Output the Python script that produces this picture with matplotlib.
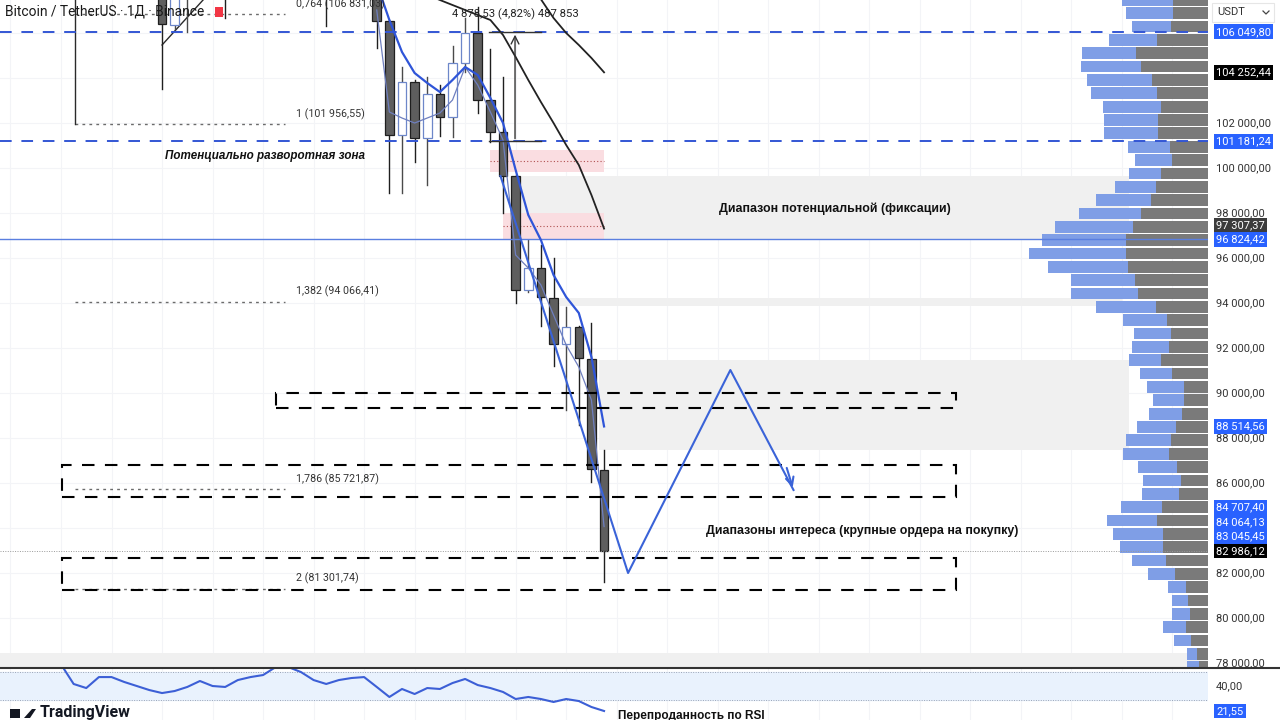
import matplotlib.pyplot as plt
import matplotlib.transforms as mtransforms
from matplotlib.patches import Rectangle, Polygon
from matplotlib.lines import Line2D

plt.rcParams['font.family'] = ['Liberation Sans', 'DejaVu Sans']

#===============================================================================
# Data (daily BTC/USDT candles, index 0 = leftmost visible)
#===============================================================================
opens = [108600, 106355, 107600, 108200, 108900, 109600, 108300, 109400, 110600,
         111500, 110200, 109100, 110100, 108800, 107800, 108600, 108000, 107700,
         106533, 101467, 103822, 101333, 103289, 102267, 104667, 106000, 103022,
         101600, 99644, 94578, 95556, 94222, 92178, 92933, 91511, 86578]
highs = [109100, 108400, 108700, 109300, 110000, 110400, 109800, 111000, 111900,
         112000, 110900, 110500, 110600, 109500, 109000, 109200, 108800, 108100,
         106600, 104489, 103900, 104044, 103689, 105422, 106667, 107155, 105289,
         104044, 99700, 96800, 96578, 96000, 93822, 93000, 93111, 87467]
lows = [103511, 106200, 106044, 107700, 108300, 106667, 107900, 109000, 110100,
        109800, 108700, 108500, 108400, 106311, 107600, 107700, 107550, 105333,
        98889, 98889, 100267, 99244, 101422, 101378, 104267, 102444, 101155,
        98000, 94000, 94500, 92978, 91200, 89244, 88578, 86044, 81600]
closes = [106400, 107900, 108300, 108900, 109600, 108300, 109400, 110600, 111500,
          110200, 109100, 110100, 108800, 107800, 108600, 108000, 107700, 106533,
          101467, 103822, 101333, 103289, 102267, 104667, 106000, 103022, 101600,
          99644, 94578, 95556, 94267, 92178, 92933, 91556, 86622, 82986.12]

# moving averages (start index, values)
ma_fast_start = 17
ma_fast = [108200, 106578, 105156, 104222, 103778, 103378, 103911, 104489, 104133,
           103111, 102000, 99911, 97911, 96800, 95244, 94267, 93556, 91600, 88514.56]
ma_thin_start = 17
ma_thin = [107022, 102489, 102222, 102000, 102222, 102444, 103022, 104489, 103689,
           102489, 101244, 96133, 95556, 94800, 93467, 92133, 91156, 89689, 84064.13]
ma_black_a_start = 21
ma_black_a = [107700, 107467, 107244, 107022, 106800, 106578, 105911, 104933,
              103911, 102933, 102000, 101022, 100133, 98800, 97307.37]
ma_black_b_start = 29
ma_black_b = [107900, 107500, 106667, 106000, 105467, 104889, 104252.44]

# RSI, index -8 .. 35
rsi_start = -8
rsi = [56, 41.5, 38.5, 46.6, 46.6, 43.0, 40.0, 37.0, 34.8, 36.3, 39.3, 43.7, 40.0,
       39.3, 44.4, 46.6, 48.1, 54, 54, 50.3, 44.4, 41.5, 44.4, 45.9, 46.6, 39.3,
       31.9, 37.8, 34.1, 38.5, 37.8, 42.2, 45.2, 40.7, 38.5, 35.6, 30.4, 31.9,
       30.4, 28.2, 30.4, 28.9, 24.5, 21.55]

# volume profile rows from the top (total / sell part)
vp_top = 107771
vp_step = 593.3
vp_total = [86, 82, 76, 99, 126, 127, 121, 117, 105, 104, 104, 80, 73, 79, 93, 112,
            129, 153, 166, 179, 160, 137, 137, 112, 85, 74, 76, 79, 68, 61, 55, 59,
            71, 82, 85, 70, 65, 66, 87, 101, 95, 88, 76, 60, 40, 36, 36, 45, 34, 21, 21]
vp_sell = [35, 35, 37, 51, 72, 67, 56, 51, 47, 50, 50, 38, 36, 47, 52, 57, 67, 75,
           82, 82, 80, 73, 70, 52, 41, 37, 39, 47, 36, 24, 24, 26, 32, 37, 39, 31,
           27, 29, 46, 51, 45, 45, 42, 33, 22, 20, 18, 22, 17, 11, 9]

# drawings
fib_labels = ['0,764 (106 831,03)', '1 (101 956,55)', '1,382 (94 066,41)',
              '1,786 (85 721,87)', '2 (81 301,74)']
fib_prices = [106831.03, 101956.55, 94066.41, 85721.87, 81301.74]
blue_dashed = [106049.80, 101181.24]
blue_solid = 96824.42
last_price = 82986.12

gray_zones = [(28.1, 76.6, 96800, 99644), (31.5, 76.0, 93867, 94222),
              (34.6, 76.6, 87467, 91467), (-13.0, 83.0, 77778, 78444)]
pink_zones = [(26.0, 35.0, 99822, 100800, 100311), (27.0, 35.0, 96800, 98000, 97422)]
dash_rects = [(9.0, 62.9, 89333, 90000), (-7.9, 62.9, 85378, 86800),
              (-7.9, 62.9, 81244, 82667)]
proj_x = [26.8, 36.9, 45.0, 50.0]
proj_y = [99644, 82000, 91022, 85689]

axis_ticks = [102000, 100000, 98000, 96000, 94000, 92000, 90000, 88000, 86000,
              82000, 80000, 78000]
price_boxes = [(106049.80, '#2962ff'), (104252.44, '#000000'), (101181.24, '#2962ff'),
               (97307.37, '#3c3c3c'), (96824.42, '#2962ff'), (88514.56, '#2962ff'),
               (84707.40, '#2962ff'), (84064.13, '#2962ff'), (83045.45, '#2962ff'),
               (82986.12, '#000000')]


def fmt(v):
    return f"{v:,.2f}".replace(',', ' ').replace('.', ',')


#===============================================================================
# Figure
#===============================================================================
W, H = 1280, 720
fig = plt.figure(figsize=(12.8, 7.2), dpi=100)
fig.patch.set_facecolor('white')
pr = 1208 / W
ax = fig.add_axes([0, 52 / H, pr, 668 / H])
axr = fig.add_axes([0, 0, pr, 52 / H], sharex=ax)
for a in (ax, axr):
    a.set_axis_off()
ax.set_xlim(-12.83, 82.82)
ax.set_ylim(77778, 107467)
axr.set_ylim(14.9, 53.3)

# faint grid
for p in range(78000, 108000, 2000):
    ax.axhline(p, color='#f3f4f7', lw=0.8, zorder=0)
for i in range(-12, 84, 4):
    ax.axvline(i, color='#f3f4f7', lw=0.8, zorder=0)
    axr.axvline(i, color='#f3f4f7', lw=0.8, zorder=0)

# zones
for x0, x1, y0, y1 in gray_zones:
    ax.add_patch(Rectangle((x0, y0), x1 - x0, y1 - y0, fc='#f0f0f0', ec='none', zorder=1))
for x0, x1, y0, y1, ym in pink_zones:
    ax.add_patch(Rectangle((x0, y0), x1 - x0, y1 - y0, fc='#fadde1', ec='none', zorder=1.5))
    ax.plot([x0, x1], [ym, ym], color='#b05050', lw=0.8, ls=(0, (1, 2)), zorder=1.6)

# volume profile (anchored to the right edge)
blend = mtransforms.blended_transform_factory(ax.transAxes, ax.transData)
for k, (tot, sell) in enumerate(zip(vp_total, vp_sell)):
    y0 = vp_top - vp_step * (k + 1)
    hgt = vp_step * 0.88
    ax.add_patch(Rectangle((1 - tot / 1208, y0 + vp_step * 0.06), tot / 1208, hgt,
                           transform=blend, fc='#7f9ee6', ec='none', zorder=2))
    ax.add_patch(Rectangle((1 - sell / 1208, y0 + vp_step * 0.06), sell / 1208, hgt,
                           transform=blend, fc='#7a7a7a', ec='none', zorder=2.1))

# horizontal levels
for p in blue_dashed:
    ax.axhline(p, color='#3356d4', lw=1.4, ls=(0, (6, 5)), zorder=6)
ax.axhline(blue_solid, color='#5a7fe0', lw=1.0, zorder=6)
ax.axhline(last_price, color='#9a9a9a', lw=0.7, ls=(0, (1, 1.5)), zorder=6)

# fib extension
for lab, p in zip(fib_labels, fib_prices):
    ax.plot([-6.9, 9.7], [p, p], color='#6b6b6b', lw=1.0, ls=(0, (2, 3)), zorder=3)
    ax.text(10.6, p + 444, lab, fontsize=7.7, color='#333333', va='center', ha='left',
            family='Roboto', zorder=7)
ax.plot([-6.9, -6.9], [fib_prices[1], 108500], color='#2a2a2a', lw=1.0, zorder=3)
ax.plot([0, 4], [105467, 107930], color='#2a2a2a', lw=1.0, zorder=3)

# dashed rectangles
for x0, x1, y0, y1 in dash_rects:
    ax.add_patch(Rectangle((x0, y0), x1 - x0, y1 - y0, fill=False, ec='black', lw=1.5,
                           ls=(0, (6, 5)), zorder=7))

# candles
bw = 0.68
for i, (o, h, l, c) in enumerate(zip(opens, highs, lows, closes)):
    up = c >= o
    ax.plot([i, i], [l, h], color='#4a4a4a' if up else '#1f1f1f', lw=1.0, zorder=4)
    ax.add_patch(Rectangle((i - bw / 2, min(o, c)), bw, abs(c - o),
                           fc='white' if up else '#5e5e5e',
                           ec='#6d87c9' if up else '#1f1f1f', lw=0.9, zorder=5))

# moving averages
ax.plot(range(ma_thin_start, ma_thin_start + len(ma_thin)), ma_thin,
        color='#6e7fbf', lw=0.9, zorder=6)
ax.plot(range(ma_fast_start, ma_fast_start + len(ma_fast)), ma_fast,
        color='#2f55d8', lw=1.6, zorder=6)
ax.plot(range(ma_black_a_start, ma_black_a_start + len(ma_black_a)), ma_black_a,
        color='#222222', lw=1.3, zorder=6)
ax.plot(range(ma_black_b_start, ma_black_b_start + len(ma_black_b)), ma_black_b,
        color='#222222', lw=1.3, zorder=6)

# projection zigzag
ax.plot(proj_x, proj_y, color='#3a63d8', lw=1.5, zorder=8)
ax.annotate('', xy=(proj_x[-1], proj_y[-1]),
            xytext=(proj_x[-1] - 0.6, proj_y[-1] + 1100),
            arrowprops=dict(arrowstyle='->', color='#3a63d8', lw=1.5, mutation_scale=14),
            zorder=8)

# measure tool
ax.plot([25.9, 30.0], [blue_dashed[0], blue_dashed[0]], color='#333333', lw=1.0, zorder=7)
ax.plot([25.9, 30.0], [blue_dashed[1], blue_dashed[1]], color='#333333', lw=1.0, zorder=7)
ax.annotate('', xy=(27.95, blue_dashed[0]), xytext=(27.95, blue_dashed[1]),
            arrowprops=dict(arrowstyle='->', color='#333333', lw=1.0, mutation_scale=14),
            zorder=7)
ax.text(27.95, 106844, '4 878,53 (4,82%) 487 853', fontsize=8.1, color='#222222',
        ha='center', va='center', family='Roboto', zorder=9)

# annotations
ax.text(0.24, 100533, 'Потенциально разворотная зона', fontsize=8.4, weight='bold',
        style='italic', ha='left', va='center', color='#111111', zorder=9)
ax.text(44.1, 98178, 'Диапазон потенциальной (фиксации)', fontsize=8.9, weight='bold',
        ha='left', va='center', color='#111111', zorder=9)
ax.text(43.07, 83867, 'Диапазоны интереса (крупные ордера на покупку)', fontsize=8.9,
        weight='bold', ha='left', va='center', color='#111111', zorder=9)

# right price scale
ytr = ax.get_yaxis_transform()
for p in axis_ticks:
    ax.text(1.0066, p, fmt(p), transform=ytr, fontsize=8, color='#333333', va='center',
            ha='left', family='Roboto', clip_on=False)
placed = []
prev = None
for v, col in sorted(price_boxes):
    y = v if prev is None else max(v, prev + 644)
    prev = y
    placed.append((v, y, col))
for v, y, col in placed:
    ax.text(1.0066, y, fmt(v), transform=ytr, fontsize=8, color='white', va='center',
            ha='left', family='Roboto', clip_on=False, zorder=10,
            bbox=dict(boxstyle='square,pad=0.22', fc=col, ec='none'))

# USDT selector
fig.add_artist(Rectangle((1212 / W, 1 - 22 / H), 62 / W, 19 / H, fc='white',
                         ec='#e6e6e6', lw=0.8, transform=fig.transFigure))
fig.text(1217 / W, 1 - 12 / H, 'USDT', fontsize=8, color='#333333', va='center',
         family='Roboto')
fig.add_artist(Line2D([1263 / W, 1266 / W, 1269 / W],
                      [1 - 11 / H, 1 - 14 / H, 1 - 11 / H], color='#444444', lw=0.9))

# RSI pane
axr.axhspan(30, 50, color='#e9f2fd', zorder=0)
axr.axhline(50, color='#9aa3b5', lw=0.7, ls=(0, (1, 1.5)))
axr.axhline(30, color='#9aa3b5', lw=0.7, ls=(0, (1, 1.5)))
axr.plot(range(rsi_start, rsi_start + len(rsi)), rsi, color='#3c5fd6', lw=1.5, zorder=3)
rtr = axr.get_yaxis_transform()
axr.text(1.0066, 40, '40,00', transform=rtr, fontsize=8, color='#333333', va='center',
         family='Roboto', clip_on=False)
axr.text(1.0066, 21.55, '21,55', transform=rtr, fontsize=8, color='white', va='center',
         family='Roboto', clip_on=False,
         bbox=dict(boxstyle='square,pad=0.22', fc='#2962ff', ec='none'))
axr.text(36.1, 17.86, 'Перепроданность по RSI', fontsize=8.5, weight='bold',
         ha='left', va='center', color='#111111', clip_on=False)

# pane separator
fig.add_artist(Line2D([0, 1], [52 / H, 52 / H], color='#333333', lw=1.5))

# title and logo
fig.text(5 / W, 1 - 12 / H, 'Bitcoin / TetherUS · 1Д · Binance', fontsize=9.9,
         color='#1a1a1a', va='center', family='Roboto')
fig.add_artist(Rectangle((215 / W, 1 - 17 / H), 8 / W, 10 / H, fc='#f23645', ec='none',
                         transform=fig.transFigure))
fig.add_artist(Rectangle((10 / W, 2 / H), 10 / W, 9 / H, fc='#131722', ec='none',
                         transform=fig.transFigure))
fig.add_artist(Polygon([(24 / W, 2 / H), (32 / W, 11 / H), (36 / W, 11 / H), (30 / W, 2 / H)],
                       closed=True, fc='#131722', ec='none', transform=fig.transFigure))
fig.text(40 / W, 8 / H, 'TradingView', fontsize=11.5, weight='bold', color='#131722',
         va='center', family='Roboto')

plt.savefig('out.png', dpi=100)
